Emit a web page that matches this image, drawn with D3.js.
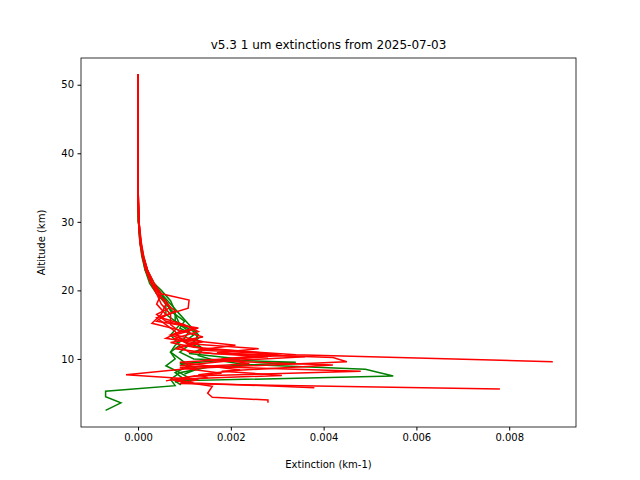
<!DOCTYPE html>
<html><head><meta charset="utf-8">
<script src="https://cdn.jsdelivr.net/npm/d3@7"></script>
<style>body{margin:0;background:#fff}text{font-family:"DejaVu Sans",sans-serif}</style>
</head><body>
<script>
// Altitude (km) and extinction (km-1) per profile
var greenAlt = [
  [51.5,45,40,35,30,27,25,23,21,19.5,18,16.5,15,13.5,12,11,10,9,8,7,6.1,5.3,4.5,3.6,2.5],
  [51.5,45,40,35,30,27,25,23,21,19.5,18,16.5,15,13.5,12.5,11.5,10.5,9.9,9.2,8.5,7.5,6.8,6.3],
  [51.5,45,40,35,30,27,25,23,21,19.5,18,16.5,15,14,13,12,11,10,9,8,7,6.2],
  [51.5,45,40,35,30,27,25,23,21,20,18.5,17,15.5,14,13,12,11,10,9.5,8.8,8,7.2,6.6],
  [51.5,45,40,35,30,27,25,23,21,20,18.5,17,15.5,14.5,13.5,12.5,11.5,10.8,10,9.3,8.6,7.8]
];
var greenExt = [
  [0,0,0,0,0.00001,0.00005,0.0001,0.00015,0.00025,0.0004,0.0006,0.0008,0.0009,0.0007,0.0009,0.0007,0.0008,0.0006,0.0009,0.0007,0.0008,-0.0007,-0.0007,-0.00037,-0.0007],
  [0,0,0,0,0.00001,0.00005,0.0001,0.0002,0.0003,0.0005,0.0007,0.0009,0.0011,0.0013,0.0012,0.0014,0.0013,0.0016,0.0023,0.0049,0.0055,0.0008,0.0009],
  [0,0,0,0,0.00001,0.00004,0.00008,0.00015,0.0003,0.0005,0.0006,0.0006,0.0009,0.0011,0.001,0.0008,0.0007,0.0009,0.0011,0.0008,0.001,0.0009],
  [0,0,0,0,0.00001,0.00006,0.00012,0.0002,0.00035,0.0005,0.0007,0.0008,0.0008,0.0012,0.0013,0.0011,0.0009,0.0012,0.0034,0.0015,0.0009,0.0011,0.0008],
  [0,0,0,0,0.00001,0.00004,0.0001,0.00018,0.0003,0.00045,0.0006,0.0007,0.001,0.0009,0.0012,0.001,0.0014,0.0011,0.0022,0.0009,0.0013,0.001]
];
var redAlt = [
  [51.5,45,40,35,30,27,25,23,21,19.5,18.6,17.4,16,15,14,13,12,11.5,10.6,9.6],
  [51.5,45,40,35,30,27,25,23,21,19.5,18,16.5,15,14,13,12.3,11.5,10.8,10.2,9.6,8.6,7.7,7,6.4,5.6],
  [51.5,45,40,35,30,27,25,23,21,19.5,18,16.5,15.5,14.5,13.5,12.5,11.8,11,10.3,9.5,8.4,7.7,7.3,6.8,6,5,4.4,4,3.6],
  [51.5,45,40,35,30,27,25,23,21,19.5,18,16.5,15.2,14.2,13.2,12.4,11.7,11,10.5,9.8,9.1,8.2,7.6,7,6.5,5.8],
  [51.5,45,40,35,30,27,25,23,21,19.5,18,17,16,15,14,13,12.2,11.5,10.9,10.3,9.8,9,8.2,7.5,6.8],
  [51.5,45,40,35,30,27,25,23,21,19.5,18.5,17.5,16.5,15.5,14.5,13.5,12.8,12,11.3,10.7,10,9.3,8.7,7.9,7.2]
];
var redExt = [
  [0,0,0,0,0.00002,0.00007,0.00012,0.0002,0.0003,0.0005,0.0011,0.00108,0.0004,0.0006,0.0008,0.0009,0.0011,0.0014,0.0034,0.00894],
  [0,0,0,0,0.00002,0.00006,0.0001,0.00018,0.0003,0.0004,0.0005,0.0007,0.0007,0.0009,0.0006,0.0013,0.0008,0.0016,0.0042,0.0045,0.0011,-0.00026,0.0013,0.0009,0.0078],
  [0,0,0,0,0.00002,0.00005,0.0001,0.0002,0.00035,0.0005,0.0004,0.0006,0.0004,0.0013,0.0008,0.0014,0.0009,0.0011,0.0028,0.0009,0.0022,0.0013,0.0015,0.0008,0.0016,0.0015,0.0016,0.0028,0.0028],
  [0,0,0,0,0.00001,0.00005,0.00011,0.0002,0.0003,0.00045,0.0006,0.0005,0.0003,0.0009,0.0014,0.0007,0.0012,0.0025,0.0031,0.0014,0.0042,0.0018,0.0031,0.0007,0.0012,0.0038],
  [0,0,0,0,0.00002,0.00006,0.0001,0.00017,0.0003,0.00045,0.0006,0.0008,0.0005,0.001,0.0013,0.0008,0.0011,0.0026,0.0017,0.0036,0.0021,0.0009,0.0048,0.0012,0.0006],
  [0,0,0,0,0.00001,0.00004,0.00009,0.00016,0.00028,0.0004,0.0006,0.0007,0.0004,0.0006,0.0012,0.0007,0.0010,0.0021,0.0013,0.0030,0.0018,0.0024,0.0009,0.0018,0.0009]
];
var xTicks = [0, 0.002, 0.004, 0.006, 0.008];
var yTicks = [10, 20, 30, 40, 50];

var W = 640, H = 480, m = {l: 81, r: 64, t: 58, b: 53};
var svg = d3.select('body').append('svg').attr('width', W).attr('height', H);
var x = d3.scaleLinear().domain([-0.00123, 0.00944]).range([m.l, W - m.r]);
var y = d3.scaleLinear().domain([0.07, 53.9]).range([H - m.b, m.t]);

var line = d3.line().x(function(d){ return x(d[0]); }).y(function(d){ return y(d[1]); });
function draw(alts, exts, color) {
  alts.forEach(function(a, i) {
    var pts = a.map(function(v, j){ return [exts[i][j], v]; });
    svg.append('path').attr('d', line(pts)).attr('fill', 'none')
      .attr('stroke', color).attr('stroke-width', 1.5);
  });
}
draw(greenAlt, greenExt, 'green');
draw(redAlt, redExt, 'red');

var gx = svg.append('g').attr('transform', 'translate(0,' + (H - m.b) + ')')
  .call(d3.axisBottom(x).tickValues(xTicks).tickFormat(d3.format('.3f')).tickSizeOuter(0).tickSize(3.5).tickPadding(3.5));
var gy = svg.append('g').attr('transform', 'translate(' + m.l + ',0)')
  .call(d3.axisLeft(y).tickValues(yTicks).tickSizeOuter(0).tickSize(3.5).tickPadding(3.5));
svg.selectAll('.tick text').attr('font-size', 10).attr('fill', '#000');
svg.selectAll('.domain').remove();
svg.append('rect').attr('x', m.l).attr('y', m.t).attr('width', W - m.l - m.r)
  .attr('height', H - m.t - m.b).attr('fill', 'none').attr('stroke', '#000').attr('stroke-width', 0.8);

svg.append('text').attr('x', (m.l + W - m.r) / 2).attr('y', 49).attr('text-anchor', 'middle')
  .attr('font-size', 12).text('v5.3 1 um extinctions from 2025-07-03');
svg.append('text').attr('x', (m.l + W - m.r) / 2).attr('y', 468).attr('text-anchor', 'middle')
  .attr('font-size', 10).text('Extinction (km-1)');
svg.append('text').attr('transform', 'translate(45,' + ((m.t + H - m.b) / 2) + ') rotate(-90)')
  .attr('text-anchor', 'middle').attr('font-size', 10).text('Altitude (km)');
</script>
</body></html>
